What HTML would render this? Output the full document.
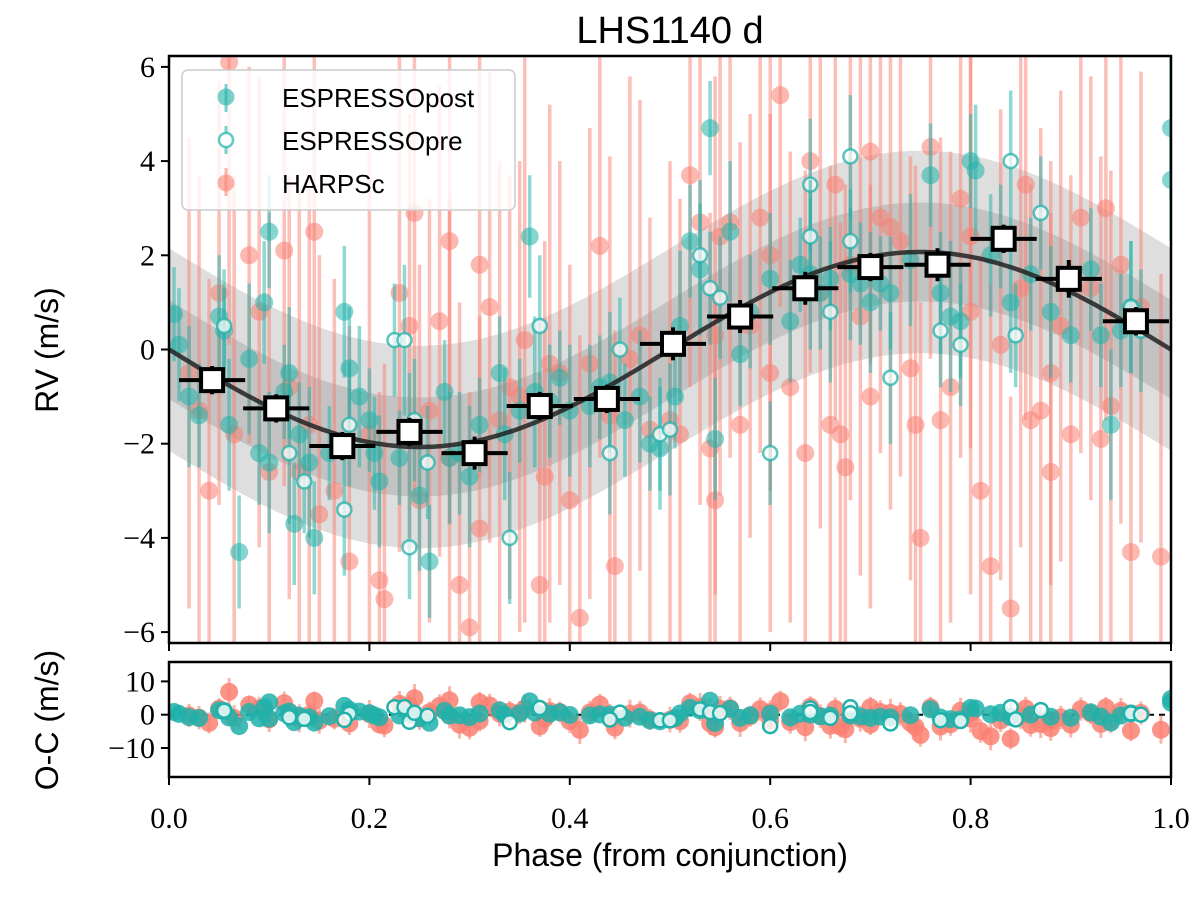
<!DOCTYPE html>
<html><head><meta charset="utf-8"><style>
body{margin:0;background:#fff;}
svg text{font-family:"Liberation Sans",sans-serif;}
.tick{font-family:"Liberation Serif",serif;font-size:30px;fill:#000;}
</style></head><body>
<svg id="chart" width="1200" height="897" viewBox="0 0 1200 897" xmlns="http://www.w3.org/2000/svg">
<defs>
<clipPath id="clipMain"><rect x="169" y="56" width="1002" height="587"/></clipPath>
<clipPath id="clipOC"><rect x="169" y="662" width="1002" height="115"/></clipPath>
</defs>
<text x="670" y="43" font-size="38" text-anchor="middle">LHS1140 d</text>
<g id="bands" clip-path="url(#clipMain)"></g>
<g id="harps" clip-path="url(#clipMain)"></g>
<g id="post" clip-path="url(#clipMain)"></g>
<g id="pre" clip-path="url(#clipMain)"></g>
<g id="model" clip-path="url(#clipMain)"></g>
<g id="bins" clip-path="url(#clipMain)"></g>
<g id="oc" clip-path="url(#clipOC)"></g>
<g id="axes"></g>
<g>
<rect x="182" y="70" width="333" height="140" rx="6" fill="#fff" fill-opacity="0.8" stroke="#ccc" stroke-width="1.5"/>
<line x1="226" y1="84" x2="226" y2="112" stroke="#20b2aa" stroke-opacity="0.6" stroke-width="3"/>
<circle cx="226" cy="97" r="8.5" fill="#20b2aa" fill-opacity="0.6"/>
<text x="282" y="107" font-size="26">ESPRESSOpost</text>
<line x1="226" y1="126" x2="226" y2="154" stroke="#20b2aa" stroke-opacity="0.6" stroke-width="3"/>
<circle cx="226" cy="140" r="7" fill="#fff" stroke="#20b2aa" stroke-opacity="0.7" stroke-width="2.5"/>
<text x="282" y="150" font-size="26">ESPRESSOpre</text>
<line x1="226" y1="168" x2="226" y2="196" stroke="#fa8072" stroke-opacity="0.6" stroke-width="3"/>
<circle cx="226" cy="183" r="8.5" fill="#fa8072" fill-opacity="0.6"/>
<text x="282" y="193" font-size="26">HARPSc</text>
</g>
<text transform="translate(58,350) rotate(-90)" font-size="32" text-anchor="middle">RV (m/s)</text>
<text transform="translate(58,720) rotate(-90)" font-size="32" text-anchor="middle">O-C (m/s)</text>
<text x="670" y="866" font-size="32" text-anchor="middle">Phase (from conjunction)</text>
</svg>
<script>
const harpsPhase=[0.03,0.04,0.06,0.065,0.08,0.09,0.12,0.13,0.14,0.145,0.15,0.165,0.18,0.2,0.21,0.215,0.23,0.24,0.245,0.25,0.26,0.28,0.3,0.31,0.29,0.32,0.33,0.34,0.35,0.355,0.37,0.375,0.38,0.39,0.4,0.41,0.42,0.43,0.44,0.445,0.46,0.47,0.48,0.5,0.51,0.52,0.53,0.54,0.545,0.55,0.56,0.57,0.58,0.59,0.6,0.61,0.62,0.635,0.64,0.65,0.66,0.665,0.67,0.675,0.68,0.69,0.7,0.71,0.72,0.73,0.74,0.745,0.75,0.76,0.77,0.78,0.79,0.8,0.81,0.82,0.83,0.84,0.85,0.86,0.87,0.88,0.89,0.9,0.91,0.92,0.93,0.94,0.95,0.96,0.97,0.99,0.02,0.05,0.1,0.27,0.28,0.31,0.115,0.545,0.6,0.7,0.8,0.855,0.88,0.935];
const harpsRV=[-1.3,-3.0,6.1,-1.8,2.0,0.8,-0.8,-2.6,-1.6,2.5,-3.5,-3.0,-4.5,-1.8,-4.9,-5.3,1.2,0.5,2.9,-3.2,-1.3,-2.3,-5.9,-3.8,-5.0,0.9,-1.5,-0.8,-1.0,0.2,-5.0,-2.7,-0.3,-0.5,-3.2,-5.7,-0.3,2.2,-1.4,-4.6,-0.2,0.3,-1.7,-1.5,-1.8,3.7,2.7,-2.1,-3.2,2.4,2.7,-1.6,0.5,2.8,-0.5,5.4,-0.8,-2.2,4.0,1.2,-1.6,3.5,-1.8,-2.5,1.8,0.7,4.2,2.8,2.6,2.3,-0.4,-1.6,-4.0,4.3,-1.5,-0.8,3.2,2.4,-3.0,-4.6,0.1,-5.5,1.3,-1.5,-1.3,-0.5,0.5,-1.8,2.8,1.3,-1.9,-1.2,1.8,-4.3,0.9,-4.4,-0.5,1.2,-2.6,0.6,2.3,1.8,2.1,0.3,2.0,-1.0,0.8,3.5,-2.6,3.0];
const harpsErr=[5,4.5,6,5.5,4,5,4.5,6,5,4,5.5,4.5,5,6,4,5,5.5,4.5,6,5,4.5,5.5,5,4.5,6,5,5.5,4.5,5,6,4.5,5,5.5,4.5,5,6,5,4.5,5.5,5,6,5,4.5,5.5,5,4.5,6,5,4.5,5.5,5,6,4.5,5,5.5,4.5,5,6,4.5,5,5.5,5,4.5,6,5,5.5,4.5,5,6,5,4.5,5.5,5,4.5,6,5,5.5,4.5,5,6,5,4.5,5.5,5,6,4.5,5,5.5,5,4.5,6,5,5.5,4.5,5,6,5,4.5,5.5,5,6,4.5,5,5.5,5,4.5,6,5,5.5,4.5];
const postPhase=[0.005,0.01,0.02,0.03,0.05,0.055,0.06,0.07,0.08,0.09,0.095,0.1,0.1,0.115,0.12,0.125,0.13,0.14,0.145,0.16,0.175,0.18,0.19,0.2,0.205,0.21,0.23,0.24,0.25,0.26,0.275,0.28,0.29,0.3,0.31,0.33,0.335,0.35,0.36,0.365,0.38,0.39,0.4,0.42,0.43,0.44,0.455,0.47,0.48,0.49,0.505,0.51,0.52,0.53,0.54,0.545,0.56,0.57,0.58,0.6,0.62,0.63,0.64,0.65,0.66,0.68,0.69,0.7,0.71,0.72,0.74,0.76,0.77,0.78,0.79,0.8,0.805,0.82,0.83,0.84,0.86,0.88,0.9,0.92,0.93,0.94,0.95,0.96,1.0,1.0];
const postRV=[0.75,0.1,-1.0,-1.4,0.7,0.4,-1.6,-4.3,-0.2,-2.2,1.0,2.5,-2.4,-0.9,-0.5,-3.7,-1.8,-2.4,-4.0,-2.2,0.8,-0.4,-1.0,-1.5,-2.2,-2.8,-2.3,-1.8,-3.1,-4.5,-0.9,-2.3,-2.2,-2.7,-1.6,-0.5,-1.8,-1.3,2.4,-0.9,-1.1,-0.6,-1.3,-1.2,-0.8,-0.7,-1.5,-1.0,-2.0,-2.1,-1.0,0.5,2.3,1.7,4.7,-1.9,2.5,-0.1,0.8,1.5,0.6,1.8,1.6,1.2,1.5,1.6,1.4,1.0,1.4,1.2,1.9,3.7,1.2,0.7,0.6,4.0,3.8,2.0,2.4,1.0,1.6,0.8,0.3,1.7,0.3,-1.6,0.4,0.9,4.7,3.6];
const postErr=[1.0,1.2,1.5,1.1,1.3,0.9,1.4,1.2,1.6,1.1,1.3,1.2,1.5,1.0,1.4,1.3,1.1,1.6,1.2,1.0,1.4,1.3,1.5,1.1,1.2,1.4,1.0,1.3,1.6,1.2,1.1,1.4,1.3,1.5,1.0,1.2,1.4,1.1,1.3,1.6,1.2,1.0,1.4,1.3,1.1,1.5,1.2,1.4,1.0,1.3,1.1,1.6,1.2,1.4,1.0,1.3,1.5,1.1,1.2,1.4,1.3,1.0,1.6,1.2,1.1,1.4,1.3,1.5,1.0,1.2,1.4,1.1,1.3,1.6,1.2,1.0,1.4,1.3,1.1,1.5,1.2,1.4,1.0,1.3,1.1,1.6,1.2,1.4,1.5,1.3];
const prePhase=[0.055,0.12,0.135,0.18,0.175,0.225,0.235,0.24,0.245,0.258,0.34,0.37,0.45,0.44,0.49,0.5,0.53,0.54,0.55,0.6,0.64,0.64,0.66,0.68,0.68,0.72,0.77,0.79,0.84,0.845,0.87,0.96,0.97];
const preRV=[0.5,-2.2,-2.8,-1.6,-3.4,0.2,0.2,-4.2,-1.5,-2.4,-4.0,0.5,0.0,-2.2,-1.8,-1.7,2.0,1.3,1.1,-2.2,3.5,2.4,0.8,4.1,2.3,-0.6,0.4,0.1,4.0,0.3,2.9,0.9,0.4];
const preErr=[1.2,1.5,1.1,1.3,1.4,1.2,1.6,1.1,1.3,1.2,1.4,1.5,1.1,1.3,1.2,1.4,1.6,1.2,1.3,1.1,1.4,1.2,1.5,1.3,1.1,1.4,1.2,1.3,1.5,1.1,1.2,1.4,1.3];
const binPhase=[0.043,0.107,0.173,0.24,0.305,0.37,0.437,0.503,0.57,0.635,0.70,0.767,0.833,0.898,0.965];
const binRV=[-0.65,-1.25,-2.05,-1.75,-2.2,-1.2,-1.05,0.12,0.7,1.3,1.75,1.8,2.35,1.5,0.6];
const binErr=[0.3,0.3,0.3,0.3,0.35,0.3,0.3,0.35,0.35,0.35,0.3,0.35,0.3,0.4,0.3];
const modelK=[2.07];
const bandInner=[1.05];
const bandOuter=[2.15];
const xTicks=[0,0.2,0.4,0.6,0.8,1.0];
const yTicks=[-6,-4,-2,0,2,4,6];
const ocTicks=[-10,0,10];

const NS="http://www.w3.org/2000/svg";
const X0=169,X1=1171;
const xs=p=>X0+p*(X1-X0);
const ys=v=>349.5-v*47.1;
const yo=v=>714.7-v*3.33;
const model=p=>-modelK[0]*Math.sin(2*Math.PI*p);
function mk(tag,attrs,parent){const e=document.createElementNS(NS,tag);for(const k in attrs)e.setAttribute(k,attrs[k]);parent.appendChild(e);return e;}
const G=id=>document.getElementById(id);

function bandPath(w){let up=[],dn=[];for(let i=0;i<=200;i++){const p=i/200;up.push(xs(p).toFixed(1)+","+ys(model(p)+w).toFixed(1));dn.push(xs(p).toFixed(1)+","+ys(model(p)-w).toFixed(1));}return "M"+up.join("L")+"L"+dn.reverse().join("L")+"Z";}
let b1=mk("path",{d:bandPath(bandOuter[0]),fill:"#000","fill-opacity":"0.13"},G("bands"));


let b2=mk("path",{d:bandPath(bandInner[0]),fill:"#000","fill-opacity":"0.12"},G("bands"));



function drawSet(ph,rv,er,g,color,open,name){
  for(let i=0;i<ph.length;i++){
    const x=xs(ph[i]);
    const l=mk("line",{x1:x,x2:x,y1:ys(rv[i]+er[i]),y2:ys(rv[i]-er[i]),stroke:color,"stroke-opacity":"0.5","stroke-width":"3.5"},g);
    
    
    const c=open?mk("circle",{cx:x,cy:ys(rv[i]),r:7,fill:"#fff","fill-opacity":"0.7",stroke:color,"stroke-opacity":"0.75","stroke-width":"2.5"},g)
               :mk("circle",{cx:x,cy:ys(rv[i]),r:9,fill:color,"fill-opacity":"0.55"},g);
    
    
    const r=rv[i]-model(ph[i]);
    const re=er[i]*0.7;
    const l2=mk("line",{x1:x,x2:x,y1:yo(r+re),y2:yo(r-re),stroke:color,"stroke-opacity":"0.6","stroke-width":"3"},G("oc"));
    
    
    const c2=open?mk("circle",{cx:x,cy:yo(r),r:7,fill:"#fff","fill-opacity":"0.8",stroke:color,"stroke-width":"2.5"},G("oc"))
                :mk("circle",{cx:x,cy:yo(r),r:9,fill:color,"fill-opacity":"0.85"},G("oc"));
    
    
  }
}
let z=mk("line",{x1:X0,x2:X1,y1:yo(0),y2:yo(0),stroke:"#000","stroke-width":"2","stroke-dasharray":"6,5"},G("oc"));


drawSet(harpsPhase,harpsRV,harpsErr,G("harps"),"#fa8072",false,"harpsc");
drawSet(postPhase,postRV,postErr,G("post"),"#20b2aa",false,"espresso-post");
drawSet(prePhase,preRV,preErr,G("pre"),"#20b2aa",true,"espresso-pre");

let pts=[];for(let i=0;i<=300;i++){const p=i/300;pts.push(xs(p).toFixed(1)+","+ys(model(p)).toFixed(1));}
let m=mk("path",{d:"M"+pts.join("L"),fill:"none",stroke:"#222","stroke-width":"4.5","stroke-opacity":"0.85"},G("model"));



for(let i=0;i<binPhase.length;i++){
  const x=xs(binPhase[i]),y=ys(binRV[i]);
  const h=mk("line",{x1:xs(binPhase[i]-0.033),x2:xs(binPhase[i]+0.033),y1:y,y2:y,stroke:"#000","stroke-width":"4"},G("bins"));
  
  
  const v=mk("line",{x1:x,x2:x,y1:ys(binRV[i]+binErr[i]),y2:ys(binRV[i]-binErr[i]),stroke:"#000","stroke-width":"4"},G("bins"));
  
  
  const r=mk("rect",{x:x-11,y:y-11,width:22,height:22,fill:"#fff",stroke:"#000","stroke-width":"4"},G("bins"));
  
  
}

const A=G("axes");
let f1=mk("rect",{x:X0,y:56,width:X1-X0,height:587,fill:"none",stroke:"#000","stroke-width":"2.5"},A);


let f2=mk("rect",{x:X0,y:662,width:X1-X0,height:115,fill:"none",stroke:"#000","stroke-width":"2.5"},A);


xTicks.forEach(t=>{
  const x=xs(t);
  mk("line",{x1:x,x2:x,y1:643,y2:651,stroke:"#000","stroke-width":"2"},A);
  mk("line",{x1:x,x2:x,y1:777,y2:785,stroke:"#000","stroke-width":"2"},A);
  const tx=mk("text",{x:x,y:828,class:"tick","text-anchor":"middle"},A);
  tx.textContent=t.toFixed(1);
  
  
});
yTicks.forEach(t=>{
  const y=ys(t);
  mk("line",{x1:X0-8,x2:X0,y1:y,y2:y,stroke:"#000","stroke-width":"2"},A);
  const tx=mk("text",{x:X0-14,y:y+10,class:"tick","text-anchor":"end"},A);
  tx.textContent=(t<0?"\u2212":"")+Math.abs(t);
  
  
});
ocTicks.forEach(t=>{
  const y=yo(t);
  mk("line",{x1:X0-8,x2:X0,y1:y,y2:y,stroke:"#000","stroke-width":"2"},A);
  const tx=mk("text",{x:X0-14,y:y+10,class:"tick","text-anchor":"end"},A);
  tx.textContent=(t<0?"\u2212":"")+Math.abs(t);
  
  
});
</script>
</body></html>
